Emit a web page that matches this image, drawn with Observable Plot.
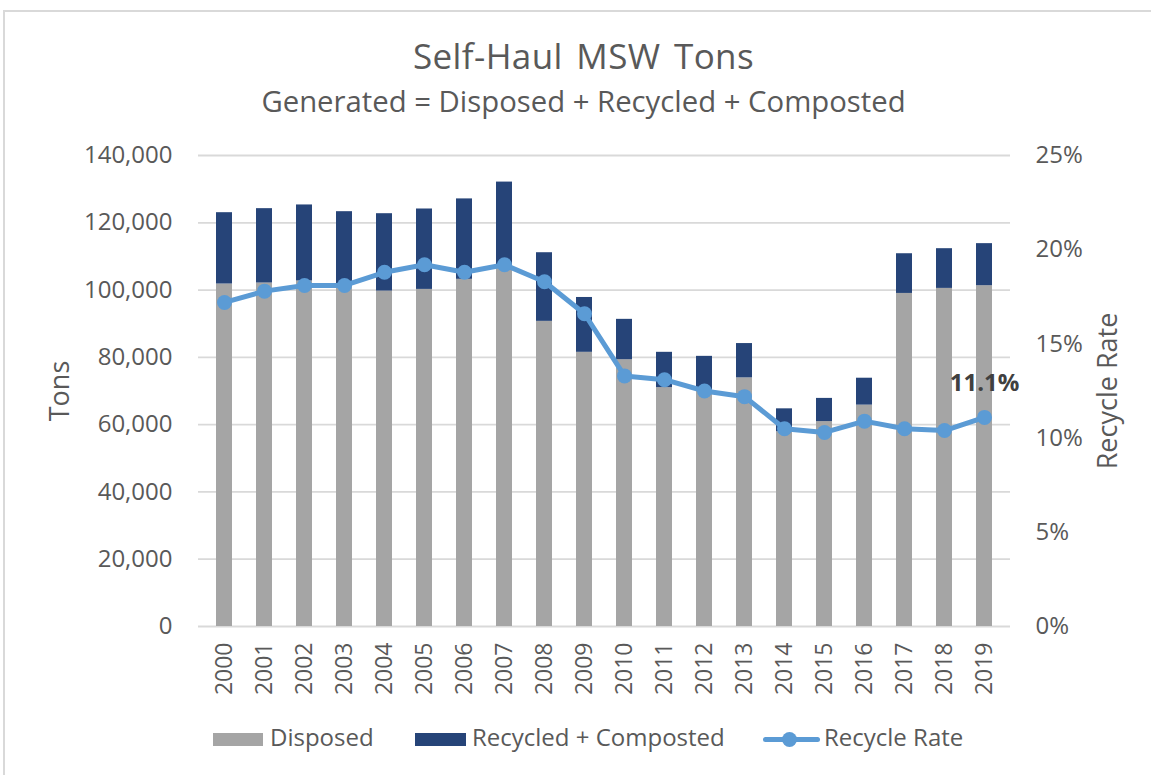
<!DOCTYPE html>
<html>
<head>
<meta charset="utf-8">
<script src="https://cdn.jsdelivr.net/npm/d3@7"></script>
<script src="https://cdn.jsdelivr.net/npm/@observablehq/plot@0.6"></script>
<style>
  html, body { margin: 0; padding: 0; background: #ffffff; }
  body { width: 1151px; height: 775px; overflow: hidden; position: relative; font-family: "Open Sans", sans-serif; color: #595959; }
  .frame { position: absolute; left: 3px; top: 10px; width: 1170px; height: 790px; border: 2px solid #D9D9D9; box-sizing: border-box; }
  .t { position: absolute; line-height: 1; white-space: nowrap; }
  #chart { position: absolute; left: 0; top: 130px; }
  .sw { position: absolute; }
</style>
</head>
<body>
<div class="frame"></div>
<div class="t" id="title" style="left:0;width:1167px;text-align:center;top:38px;font-size:35px;letter-spacing:0.4px;word-spacing:4px;">Self-Haul MSW Tons</div>
<div class="t" id="subtitle" style="left:0;width:1167px;text-align:center;top:87px;font-size:29.3px;">Generated = Disposed + Recycled + Composted</div>
<div id="chart"></div>
<div id="legend"></div>
<script>
// ---- data ----
const years = ["2000","2001","2002","2003","2004","2005","2006","2007","2008","2009",
               "2010","2011","2012","2013","2014","2015","2016","2017","2018","2019"];
const disposed = [101800,102100,102700,101000,99700,100200,103200,106500,90700,81500,
                  79300,71000,70300,73900,57900,60900,65800,99000,100500,101300];
const recycled = [21200,22100,22600,22300,23000,23900,23900,25600,20400,16300,
                  12000,10500,10000,10200,6800,6900,8000,11800,11800,12500];
const recycleRate = [17.2,17.8,18.1,18.1,18.8,19.2,18.8,19.2,18.3,16.6,
                     13.3,13.1,12.5,12.2,10.5,10.3,10.9,10.5,10.4,11.1];
const tonTicks = [0,20000,40000,60000,80000,100000,120000,140000];
const rateTicks = [0,5,10,15,20,25];
const seriesNames = ["Disposed","Recycled + Composted","Recycle Rate"];
const colors = {disposed:"#A5A5A5", recycled:"#264478", rate:"#5B9BD5"};

const rows = years.map((y,i)=>({year:y, disposed:disposed[i], recycled:recycled[i], rate:recycleRate[i]}));
const tonMax = 140000, rateMax = 25;
const rateToTons = r => r / rateMax * tonMax;

const chart = Plot.plot({
  width: 1151,
  height: 590,
  marginTop: 25,
  marginBottom: 94,
  marginLeft: 198,
  marginRight: 141,
  style: {fontFamily: "Open Sans, sans-serif", fontSize: "24px", color: "#595959", background: "transparent"},
  x: {domain: years, paddingInner: 0.6, paddingOuter: 0.3},
  y: {domain: [0, tonMax]},
  marks: [
    Plot.ruleY(tonTicks, {stroke: "#D9D9D9", strokeWidth: 1.8}),
    Plot.barY(rows, {x: "year", y1: 0, y2: "disposed", fill: colors.disposed}),
    Plot.barY(rows, {x: "year", y1: "disposed", y2: d => d.disposed + d.recycled, fill: colors.recycled}),
    Plot.line(rows, {x: "year", y: d => rateToTons(d.rate), stroke: colors.rate, strokeWidth: 5, strokeLinejoin: "round", strokeLinecap: "round"}),
    Plot.dot(rows, {x: "year", y: d => rateToTons(d.rate), r: 7.5, fill: colors.rate, stroke: "none"}),
    Plot.text(rows.slice(-1), {x: "year", y: d => rateToTons(d.rate), text: d => d.rate.toFixed(1) + "%", dy: -34, fontSize: 24, fontWeight: "bold", fill: "#404040"}),
    Plot.axisY(tonTicks, {anchor: "left", tickSize: 0, tickPadding: 26, tickFormat: d3.format(","), label: null, fontSize: 24}),
    Plot.axisY(rateTicks.map(rateToTons), {anchor: "right", tickSize: 0, tickPadding: 25, tickFormat: d => Math.round(d / tonMax * rateMax) + "%", label: null, fontSize: 24}),
    Plot.axisX({tickSize: 0, tickRotate: -90, tickPadding: 16, label: null, fontSize: 23}),
    Plot.text(["Tons"], {frameAnchor: "left", dx: -138, rotate: -90, textAnchor: "middle", fontSize: 27, fill: "#595959"}),
    Plot.text(["Recycle Rate"], {frameAnchor: "right", dx: 98, rotate: -90, textAnchor: "middle", fontSize: 27, fill: "#595959"})
  ]
});
document.getElementById("chart").appendChild(chart);

// ---- legend ----
const lg = document.getElementById("legend");
lg.innerHTML = `
  <div class="sw" style="left:213px;top:733px;width:50px;height:13px;background:${colors.disposed}"></div>
  <div class="t" style="left:270px;top:725px;font-size:24px;">${seriesNames[0]}</div>
  <div class="sw" style="left:415px;top:733px;width:51px;height:13px;background:${colors.recycled}"></div>
  <div class="t" style="left:472px;top:725px;font-size:24px;">${seriesNames[1]}</div>
  <div class="sw" style="left:763px;top:737px;width:57px;height:5px;border-radius:3px;background:${colors.rate}"></div>
  <div class="sw" style="left:782px;top:732px;width:15px;height:15px;border-radius:50%;background:${colors.rate}"></div>
  <div class="t" style="left:824px;top:725px;font-size:24px;">${seriesNames[2]}</div>
`;
</script>
</body>
</html>
